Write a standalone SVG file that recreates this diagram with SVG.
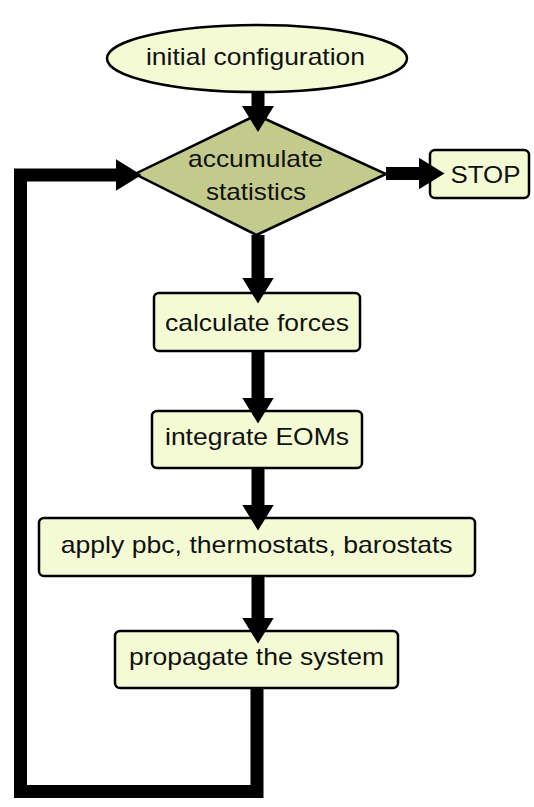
<svg xmlns="http://www.w3.org/2000/svg" width="534" height="807" viewBox="0 0 534 807">
<style>
.box{fill:#f4fbd4;stroke:#000;stroke-width:2.5}
.dia{fill:#c3cb8c;stroke:#000;stroke-width:2.5}
.lbl{font-family:"Liberation Sans",Arial,sans-serif;font-size:24px;fill:#111;text-anchor:middle}
.con{fill:none;stroke:#000;stroke-width:13;stroke-linejoin:miter;stroke-linecap:butt}
</style>
<defs>
<marker id="ah" markerUnits="userSpaceOnUse" markerWidth="26" markerHeight="32" viewBox="0 0 26 32" refX="0.5" refY="16" orient="auto">
<path d="M0,0 L26,16 L0,32 z" fill="#000"/>
</marker>
</defs>
<rect width="534" height="807" fill="#fff"/>
<g id="n-init">
<ellipse class="box" cx="257" cy="58.5" rx="150" ry="33.5"/>
<text class="lbl" x="255.5" y="65" textLength="219" lengthAdjust="spacingAndGlyphs">initial configuration</text>
</g>
<g id="n-accum">
<polygon class="dia" points="256.5,115 386,174 256.5,235 135,174"/>
<text class="lbl" x="255.5" y="166.5" textLength="135" lengthAdjust="spacingAndGlyphs">accumulate</text>
<text class="lbl" x="256" y="199.5" textLength="100" lengthAdjust="spacingAndGlyphs">statistics</text>
</g>
<g id="n-stop">
<rect class="box" x="430" y="150" width="99" height="48" rx="5"/>
<text class="lbl" x="485.5" y="182.7" textLength="70" lengthAdjust="spacingAndGlyphs">STOP</text>
</g>
<g id="n-calc">
<rect class="box" x="154" y="293" width="206" height="58" rx="5"/>
<text class="lbl" x="257" y="330.5" textLength="184" lengthAdjust="spacingAndGlyphs">calculate forces</text>
</g>
<g id="n-integ">
<rect class="box" x="152" y="411" width="210" height="57" rx="5"/>
<text class="lbl" x="257" y="445" textLength="184" lengthAdjust="spacingAndGlyphs">integrate EOMs</text>
</g>
<g id="n-apply">
<rect class="box" x="39" y="518" width="436" height="58" rx="5"/>
<text class="lbl" x="256.7" y="552.5" textLength="392" lengthAdjust="spacingAndGlyphs">apply pbc, thermostats, barostats</text>
</g>
<g id="n-prop">
<rect class="box" x="115" y="631" width="283" height="57" rx="5"/>
<text class="lbl" x="256.5" y="665" textLength="255" lengthAdjust="spacingAndGlyphs">propagate the system</text>
</g>
<g id="connectors">
<line class="con" x1="258" y1="92" x2="258" y2="106.5" marker-end="url(#ah)"/>
<line class="con" x1="258" y1="235" x2="258" y2="278" marker-end="url(#ah)"/>
<line class="con" x1="258" y1="351" x2="258" y2="398" marker-end="url(#ah)"/>
<line class="con" x1="258" y1="468" x2="258" y2="505" marker-end="url(#ah)"/>
<line class="con" x1="258" y1="576" x2="258" y2="618" marker-end="url(#ah)"/>
<line class="con" x1="386" y1="173.5" x2="419" y2="173.5" marker-end="url(#ah)"/>
<polyline class="con" points="257,688 257,791.5 20.5,791.5 20.5,175 116,175" marker-end="url(#ah)"/>
</g>
</svg>
